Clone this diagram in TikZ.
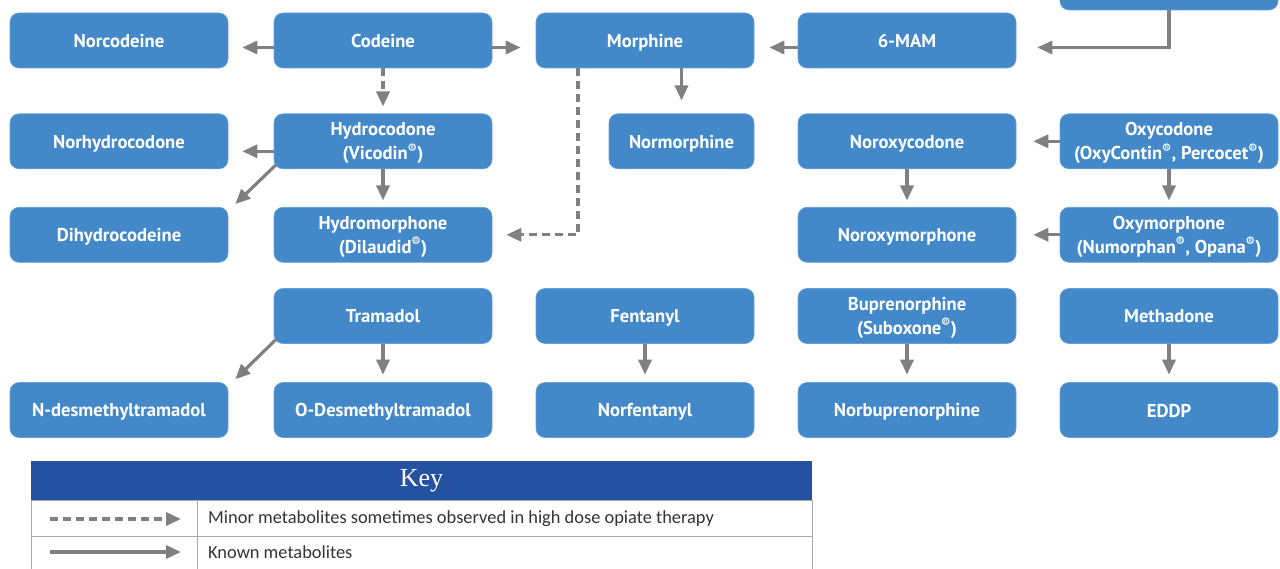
\documentclass[tikz,border=0pt]{standalone}
\usepackage{fontspec}
\setmainfont{PT Sans}
\newfontfamily\keyfont{Carlito}
\newfontfamily\keyserif{Liberation Serif}
\usetikzlibrary{arrows.meta}
\definecolor{boxblue}{RGB}{67,137,201}
\definecolor{keyblue}{RGB}{36,81,161}
\definecolor{arrgray}{RGB}{128,128,128}
\definecolor{linegray}{RGB}{170,170,170}
\definecolor{textgray}{RGB}{51,51,51}
\newcommand{\regmark}{\textsuperscript{®}}
\newcommand{\boxstrut}{\rule[-3.5pt]{0pt}{21pt}}
\begin{document}
\begin{tikzpicture}[x=1pt,y=-1pt,
  drug/.style={rectangle, rounded corners=9pt, fill=boxblue, draw=boxblue!80!white, line width=0.6pt,
    text=white, font=\bfseries\fontsize{18.6}{24}\selectfont, align=center,
    minimum width=218pt, minimum height=55pt, inner sep=0pt},
  one/.style={drug, execute at begin node={\boxstrut}, execute at end node={\boxstrut}},
  two/.style={drug, text height=45pt, text depth=8.5pt},
  conn/.style={draw=arrgray, line width=3.2pt, -{Triangle[length=15pt,width=13pt]}},
  minor/.style={conn, dash pattern=on 8pt off 5pt},
  keytext/.style={anchor=west, font=\keyfont\fontsize{18.4}{18.4}\selectfont, text=textgray, inner sep=0pt},
 ]
\clip (0,0) rectangle (1280,569);
% row 1
\node[one] (norcodeine) at (119,40.5) {Norcodeine};
\node[one] (codeine) at (383,40.5) {Codeine};
\node[one] (morphine) at (645,40.5) {Morphine};
\node[one] (mam) at (907,40.5) {6-MAM};
\node[one] (heroin) at (1169,-17.5) {};
% row 2
\node[one] (norhydrocodone) at (119,141.3) {Norhydrocodone};
\node[two] (hydrocodone) at (383,141.3) {Hydrocodone\\(Vicodin\regmark)};
\node[one, minimum width=145pt] (normorphine) at (681.5,141.3) {Normorphine};
\node[one] (noroxycodone) at (907,141.3) {Noroxycodone};
\node[two] (oxycodone) at (1169,141.3) {Oxycodone\\(OxyContin\regmark, Percocet\regmark)};
% row 3
\node[one] (dihydrocodeine) at (119,234.8) {Dihydrocodeine};
\node[two] (hydromorphone) at (383,234.8) {Hydromorphone\\(Dilaudid\regmark)};
\node[one] (noroxymorphone) at (907,234.8) {Noroxymorphone};
\node[two] (oxymorphone) at (1169,234.8) {Oxymorphone\\(Numorphan\regmark, Opana\regmark)};
% row 4
\node[one] (tramadol) at (383,316) {Tramadol};
\node[one] (fentanyl) at (645,316) {Fentanyl};
\node[two] (buprenorphine) at (907,316) {Buprenorphine\\(Suboxone\regmark)};
\node[one] (methadone) at (1169,316) {Methadone};
% row 5
\node[one] (ndesmethyl) at (119,410) {N-desmethyltramadol};
\node[one] (odesmethyl) at (383,410) {O-Desmethyltramadol};
\node[one] (norfentanyl) at (645,410) {Norfentanyl};
\node[one] (norbuprenorphine) at (907,410) {Norbuprenorphine};
\node[one] (eddp) at (1169,410) {EDDP};

% connectors
\draw[conn] ([yshift=-7pt]codeine.west) -- ([xshift=14pt,yshift=-7pt]norcodeine.east);
\draw[conn] ([yshift=-7pt]codeine.east) -- ([xshift=-15pt,yshift=-7pt]morphine.west);
\draw[conn] ([yshift=-7pt]mam.west) -- ([xshift=15pt,yshift=-7pt]morphine.east);
\draw[conn] (heroin.south) |- ([xshift=21pt,yshift=-7pt]mam.east);
\draw[minor] (codeine.south) -- ([yshift=7pt]hydrocodone.north);
\draw[conn] (normorphine.north |- morphine.south) -- ([yshift=13pt]normorphine.north);
\draw[conn] ([yshift=-10pt]hydrocodone.west) -- ([xshift=14pt,yshift=-10pt]norhydrocodone.east);
\draw[conn] ([xshift=2pt,yshift=4pt]hydrocodone.south west) -- ([xshift=7pt,yshift=3pt]dihydrocodeine.north east);
\draw[conn] (hydrocodone.south) -- ([yshift=6.5pt]hydromorphone.north);
\draw[minor] ([xshift=-67pt]morphine.south) |- ([xshift=14pt]hydromorphone.east);
\draw[conn] (oxycodone.west) -- ([xshift=17pt]noroxycodone.east);
\draw[conn] (noroxycodone.south) -- ([yshift=6.5pt]noroxymorphone.north);
\draw[conn] (oxycodone.south) -- ([yshift=6.5pt]oxymorphone.north);
\draw[conn] (oxymorphone.west) -- ([xshift=17pt]noroxymorphone.east);
\draw[conn] ([xshift=2pt,yshift=4pt]tramadol.south west) -- ([xshift=7pt,yshift=3pt]ndesmethyl.north east);
\draw[conn] (tramadol.south) -- ([yshift=7.5pt]odesmethyl.north);
\draw[conn] (fentanyl.south) -- ([yshift=7.5pt]norfentanyl.north);
\draw[conn] (buprenorphine.south) -- ([yshift=7.5pt]norbuprenorphine.north);
\draw[conn] (methadone.south) -- ([yshift=7.5pt]eddp.north);

% key
\node[fill=keyblue, minimum width=781pt, minimum height=39pt, inner sep=0pt, text=white,
  font=\keyserif\fontsize{26}{26}\selectfont] (keyhead) at (421.5,480.5) {Key};
\draw[linegray, line width=1pt] (31,500) -- (31,575) (197,500) -- (197,575) (812,500) -- (812,575)
  (31,500) -- (812,500) (31,536) -- (812,536);
\coordinate (k1s) at (50,519);
\coordinate (k1e) at (181,519);
\coordinate (k2s) at (50,552);
\coordinate (k2e) at (181,552);
\draw[minor] (k1s) -- (k1e);
\draw[conn] (k2s) -- (k2e);
\node[keytext] (k1t) at (208,519) {Minor metabolites sometimes observed in high dose opiate therapy};
\node[keytext] (k2t) at (208,552) {Known metabolites};
\end{tikzpicture}
\end{document}
